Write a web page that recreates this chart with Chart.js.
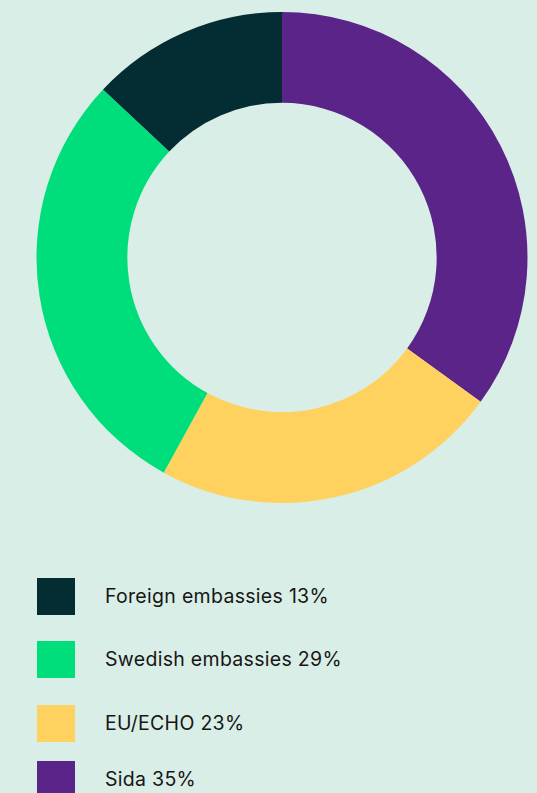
<!DOCTYPE html>
<html>
<head>
<meta charset="utf-8">
<script src="https://cdn.jsdelivr.net/npm/chart.js@4/dist/chart.umd.min.js"></script>
<style>
  html, body { margin: 0; padding: 0; background: #d9eee6; width: 537px; height: 793px; overflow: hidden; }
  #wrap { position: absolute; left: 36px; top: 12px; width: 492px; height: 491px; }
  #legend { position: absolute; left: 37px; top: 0; }
  .item { position: absolute; left: 0; width: 450px; height: 38px; }
  .sw { position: absolute; left: 0; top: 0; width: 38px; height: 37px; }
  .lbl { position: absolute; left: 68px; top: 0; line-height: 37px; font-family: "Inter", "Lato", sans-serif; font-size: 19.5px; letter-spacing: 0.3px; color: #161616; white-space: nowrap; }
</style>
</head>
<body>
<div id="wrap"><canvas id="c"></canvas></div>
<div id="legend"></div>
<script>
// Legend order (top to bottom)
const categories = ["Foreign embassies", "Swedish embassies", "EU/ECHO", "Sida"];
const shares = [13, 29, 23, 35];
const colors = ["#032c33", "#00de7c", "#ffd15f", "#5a2489"];

// Chart draws clockwise from top: Sida, EU/ECHO, Swedish, Foreign
const chartLabels = categories.slice().reverse();
const chartValues = shares.slice().reverse();
const chartColors = colors.slice().reverse();

new Chart(document.getElementById('c'), {
  type: 'doughnut',
  data: {
    labels: chartLabels,
    datasets: [{
      data: chartValues,
      backgroundColor: chartColors,
      borderWidth: 0,
      hoverOffset: 0
    }]
  },
  options: {
    responsive: true,
    maintainAspectRatio: false,
    animation: false,
    cutout: '63%',
    rotation: 0,
    layout: { padding: 0 },
    plugins: { legend: { display: false }, tooltip: { enabled: false } }
  }
});

const legendTops = [578, 641, 705, 761];
const lg = document.getElementById('legend');
categories.forEach((cat, i) => {
  const it = document.createElement('div');
  it.className = 'item';
  it.style.top = legendTops[i] + 'px';
  const sw = document.createElement('div');
  sw.className = 'sw';
  sw.style.background = colors[i];
  const lb = document.createElement('div');
  lb.className = 'lbl';
  lb.textContent = cat + ' ' + shares[i] + '%';
  it.appendChild(sw); it.appendChild(lb);
  lg.appendChild(it);
});
</script>
</body>
</html>
